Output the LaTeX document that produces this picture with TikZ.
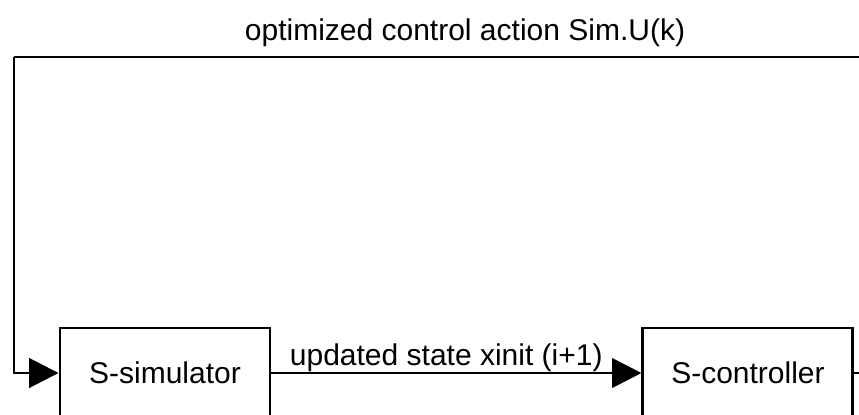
\documentclass[tikz,border=0pt]{standalone}
\usepackage{fontspec}
\setmainfont{Liberation Sans}
\usepackage{tikz}
\usetikzlibrary{arrows.meta, positioning}
\tikzset{
  block/.style={rectangle, draw=black, line width=2.2pt, fill=white,
                minimum width=157.5pt, minimum height=67.5pt,
                inner sep=0pt, font=\fontsize{22.5}{27}\selectfont},
  arrow/.style={-{Triangle[length=22pt, width=22pt]}, line width=2.2pt, draw=black},
  wire/.style={line width=2.2pt, draw=black},
  lbl/.style={font=\fontsize{22.5}{27}\selectfont, inner sep=0pt},
}
\begin{document}
\begin{tikzpicture}[x=0.75pt, y=-0.75pt, node distance=277.5pt]

  \useasboundingbox (0,0) rectangle (859,414);
  \clip (0,0) rectangle (859,414);

  % --- Nodes ---
  \node[block] (sim) at (165,373) {S-simulator};
  \node[block, right=of sim] (ctrl) {S-controller};

  % --- Feedback corners ---
  \coordinate (fbR) at (916,57);
  \coordinate (fbL) at (14,57);

  % --- Edges ---
  \draw[arrow] (sim) -- node[lbl, pos=0, anchor=base west, xshift=12.75pt, yshift=6pt]
    {updated state xinit (i+1)} (ctrl);
  \draw[wire] (ctrl.east) -| (fbR)
    -- node[lbl, midway, anchor=base, yshift=12.75pt] {optimized control action Sim.U(k)} (fbL);
  \draw[arrow] (fbL) |- (sim.west);

\end{tikzpicture}
\end{document}
